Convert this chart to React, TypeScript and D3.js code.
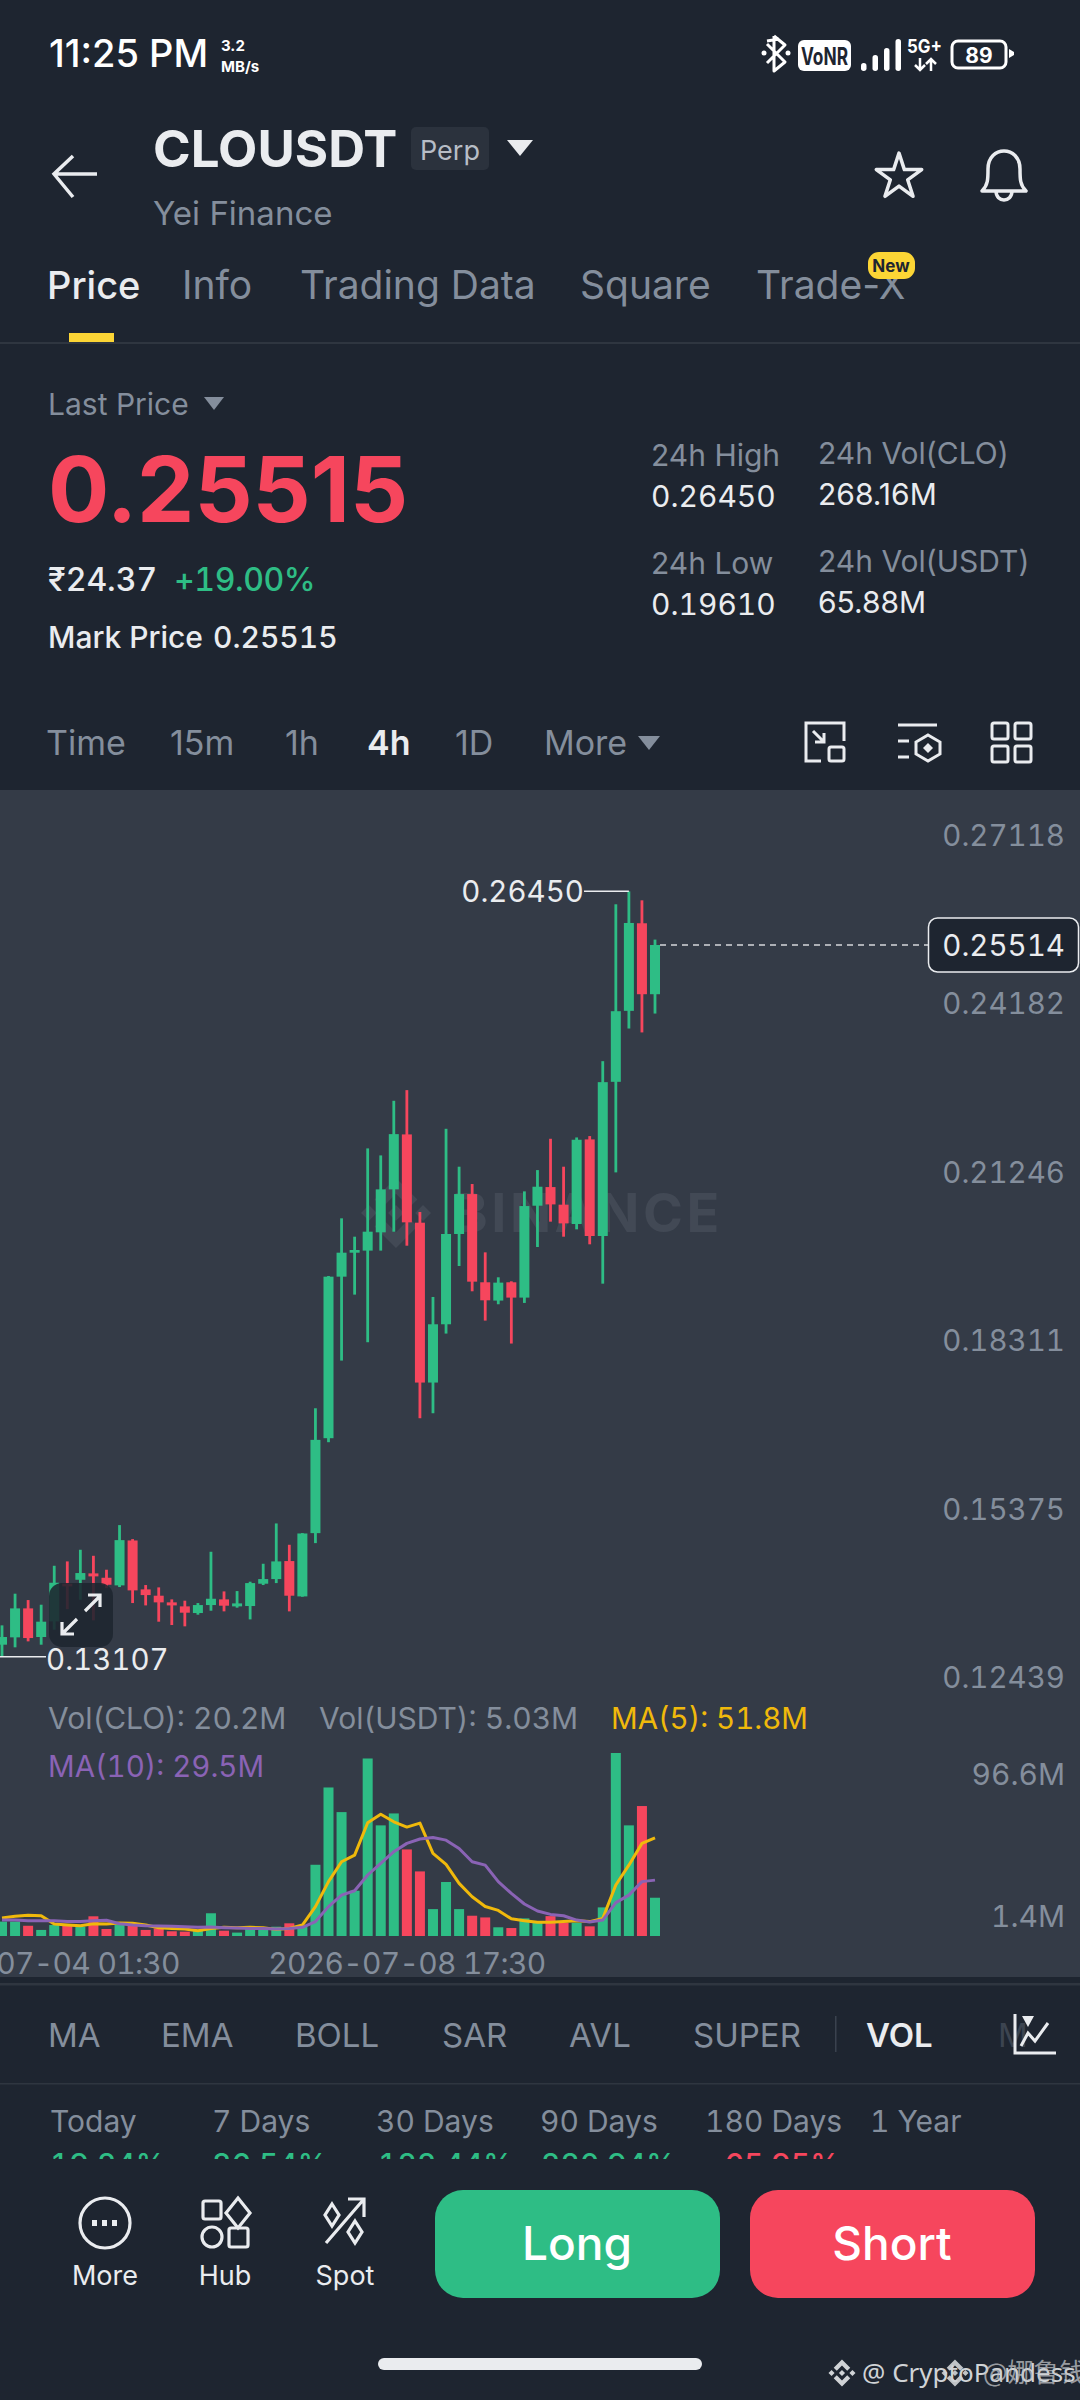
import * as d3 from 'd3'

const GREEN = '#2EBD85'
const RED = '#F6465D'
const YELLOW = '#F0B90B'
const PURPLE = '#8A63B5'
const WHITE = '#EAECEF'
const GREY = '#848E9C'
const DARK = '#1E2530'
const PANEL = '#343B47'

// 4h candles, oldest first
const opens = [
  0.13316, 0.13444, 0.13949, 0.1345, 0.13723, 0.14379, 0.14448, 0.14559, 0.14483, 0.1435, 0.15133, 0.1428, 0.1417,
  0.14054, 0.13984, 0.13868, 0.14007, 0.14106, 0.13984, 0.1399, 0.14379, 0.1446, 0.14774, 0.14158, 0.15261, 0.16916,
  0.19732, 0.2015, 0.20186, 0.20505, 0.21254, 0.22212, 0.20673, 0.17886, 0.18902, 0.20476, 0.21172, 0.19634, 0.19315,
  0.19634, 0.19367, 0.20969, 0.21294, 0.20987, 0.2065, 0.22125, 0.20441, 0.23129, 0.24366, 0.25893, 0.24656,
]
const highs = [
  0.13653, 0.14205, 0.14094, 0.14013, 0.14692, 0.14768, 0.14971, 0.14866, 0.14623, 0.15401, 0.15157, 0.14356, 0.14315,
  0.14106, 0.14083, 0.14042, 0.14936, 0.14245, 0.14251, 0.14414, 0.14727, 0.1543, 0.15058, 0.15261, 0.17438, 0.19744,
  0.20749, 0.20429, 0.21968, 0.21846, 0.22798, 0.22984, 0.20859, 0.19378, 0.2231, 0.21649, 0.21347, 0.20156, 0.19721,
  0.19651, 0.21219, 0.2159, 0.22136, 0.21649, 0.22159, 0.22183, 0.23489, 0.26224, 0.2645, 0.26293, 0.25608,
]
const lows = [
  0.13107, 0.1327, 0.13374, 0.13316, 0.13578, 0.13937, 0.141, 0.1374, 0.14303, 0.14321, 0.14042, 0.14001, 0.13717,
  0.13659, 0.13636, 0.13839, 0.13908, 0.13897, 0.13961, 0.13757, 0.14356, 0.1439, 0.13897, 0.14152, 0.15087, 0.16846,
  0.18269, 0.19419, 0.18589, 0.20186, 0.20516, 0.20272, 0.17264, 0.17351, 0.1874, 0.19918, 0.19477, 0.18966, 0.19251,
  0.18566, 0.19274, 0.20249, 0.20691, 0.20429, 0.20557, 0.20296, 0.1961, 0.2155, 0.24058, 0.2399, 0.24319,
]
const closes = [
  0.1345, 0.13949, 0.13432, 0.13717, 0.14396, 0.14332, 0.14565, 0.14507, 0.14361, 0.15139, 0.14263, 0.14181, 0.14054,
  0.14001, 0.13874, 0.14007, 0.14117, 0.13996, 0.14036, 0.1439, 0.1446, 0.14768, 0.1417, 0.15255, 0.16887, 0.19732,
  0.2015, 0.20197, 0.20516, 0.21254, 0.22217, 0.20679, 0.17886, 0.18902, 0.20476, 0.21172, 0.19645, 0.1932, 0.19628,
  0.19367, 0.20963, 0.213, 0.20992, 0.20661, 0.22119, 0.20441, 0.23123, 0.2436, 0.25898, 0.24656, 0.25514,
]
// volume in millions of CLO
const volumes = [
  7.6, 7.6, 5.4, 3.2, 5.8, 5.3, 4.9, 10.4, 3.7, 5.8, 5.8, 3.2, 4.0, 2.5, 2.3, 3.2, 12.0, 2.8, 1.8, 5.3, 4.6, 4.9, 6.7,
  5.3, 37.6, 78.4, 65.4, 23.9, 93.7, 58.4, 64.7, 45.7, 34.1, 14.2, 28.5, 14.2, 10.7, 9.8, 4.6, 4.2, 9.3, 7.0, 10.5,
  7.0, 7.0, 5.1, 15.1, 96.6, 58.4, 68.6, 20.2,
]
const ma5 = [
  9.5, 10.4, 10.9, 10.7, 6.3, 5.8, 5.4, 6.5, 6.3, 6.9, 6.7, 5.8, 4.4, 4.0, 3.7, 2.8, 4.0, 4.6, 4.4, 4.6, 4.4, 3.5, 4.0,
  5.8, 15.5, 28.7, 39.2, 42.7, 59.8, 64.3, 60.3, 57.5, 59.6, 43.6, 37.8, 27.8, 20.7, 15.6, 13.5, 9.1, 8.1, 7.2, 7.2,
  7.6, 8.1, 7.6, 9.3, 26.9, 37.4, 48.9, 51.8,
]
const ma10 = [
  8.4, 8.4, 8.1, 8.1, 8.1, 7.7, 7.7, 8.1, 8.3, 6.5, 5.8, 5.4, 5.3, 5.1, 4.9, 4.6, 4.7, 4.4, 4.2, 4.0, 3.9, 3.7, 4.0,
  4.6, 7.6, 15.5, 21.6, 23.9, 32.2, 38.3, 44.5, 48.9, 51.2, 52.0, 50.6, 46.2, 39.2, 37.4, 28.7, 22.5, 16.9, 13.2, 11.4,
  10.7, 8.4, 7.4, 8.4, 17.6, 21.6, 28.7, 29.5,
]
const priceTicks = [0.27118, 0.24182, 0.21246, 0.18311, 0.15375, 0.12439]
const volumeTicks = [96.6, 1.4]
const timeLabels = ['2026-07-04 01:30', '2026-07-08 17:30']
const timeLabelIndex = [3, 31]
const lastPrice = 0.25514

const tabs = ['Price', 'Info', 'Trading Data', 'Square', 'Trade-X']
const tabX = [47, 182, 300, 580, 756]
const intervals = ['Time', '15m', '1h', '4h', '1D', 'More']
const intervalX = [46, 170, 285, 367, 455, 544]
const indicators = ['MA', 'EMA', 'BOLL', 'SAR', 'AVL', 'SUPER']
const indicatorX = [48, 161, 295, 442, 569, 693]
const periods = ['Today', '7 Days', '30 Days', '90 Days', '180 Days', '1 Year']
const periodX = [50, 212, 376, 540, 705, 870]
const periodReturns = ['19.24%', '86.54%', '122.44%', '220.94%', '-65.95%']
const returnX = [50, 212, 378, 541, 705]

const x = d3.scaleLinear([0, 50], [2, 655])
const y = d3.scaleLinear([0.12439, 0.27118], [1695, 853])
const yVol = d3.scaleLinear([0, 96.6], [1936, 1753])
const maLine = d3
  .line<number>()
  .x((_, i) => x(i))
  .y((d) => yVol(d))

const BINANCE_LOGO =
  'M16.624 13.9202l2.7175 2.7154-7.353 7.353-7.353-7.352 2.7175-2.7164 4.6355 4.6595 4.6356-4.6595zm4.6366-4.6366L24 12l-2.7154 2.7164L18.5682 12l2.6924-2.7164zm-9.272.001l2.7163 2.6914-2.7164 2.7174v-.001L9.2721 12l2.7164-2.7154zm-9.2722-.001L5.4088 12l-2.6914 2.6924L0 12l2.7164-2.7164zM11.9885.0115l7.353 7.329-2.7174 2.7154-4.6356-4.6356-4.6355 4.6595-2.7174-2.7154 7.353-7.353z'

function T({ x, y, s = 30, c = GREY, w = 400, a = 'start', n = false, children, ...rest }: any) {
  return (
    <text
      x={x}
      y={y}
      fontSize={s}
      fill={c}
      fontWeight={w}
      textAnchor={a}
      style={n ? { fontFeatureSettings: '"tnum"' } : undefined}
      {...rest}
    >
      {children}
    </text>
  )
}

function Caret({ x, y, w, h, c }: any) {
  return <path d={`M${x},${y}h${w}l${-w / 2},${h}z`} fill={c} />
}

function Logo({ cx, cy, size, c }: any) {
  return <path d={BINANCE_LOGO} fill={c} transform={`translate(${cx - size / 2},${cy - size / 2}) scale(${size / 24})`} />
}

function StatusBar() {
  return (
    <g>
      <T x={49} y={67} s={38} c="#fff" w={500}>11:25 PM</T>
      <T x={221} y={51} s={15} c="#fff" w={700}>3.2</T>
      <T x={221} y={72} s={15} c="#fff" w={700}>MB/s</T>
      <path d="M767,41l12,-2v0M774,36v35l11,-9l-18,-18M774,36l11,9l-18,18" fill="none" stroke="#fff" strokeWidth={3} strokeLinejoin="round" />
      <circle cx={764} cy={53} r={2.5} fill="#fff" />
      <circle cx={788} cy={53} r={2.5} fill="#fff" />
      <rect x={798} y={40} width={53} height={31} rx={6} fill="#fff" />
      <T x={801} y={65} s={24} c={DARK} w={700} textLength={47} lengthAdjust="spacingAndGlyphs">VoNR</T>
      {[63, 55, 48, 39].map((top, i) => (
        <rect key={i} x={861 + i * 11.5} y={top} width={5.5} height={71 - top} rx={2.7} fill="#fff" />
      ))}
      <T x={907} y={53} s={19} c="#fff" w={700} textLength={35} lengthAdjust="spacingAndGlyphs">5G+</T>
      <path d="M920,58v12M915,65l5,5l5,-5M931,71v-12M926,64l5,-5l5,5" fill="none" stroke="#fff" strokeWidth={2.5} />
      <rect x={952} y={41} width={54} height={27} rx={6} fill="none" stroke="#fff" strokeWidth={3} />
      <T x={979} y={63} s={21} c="#fff" w={700} a="middle">89</T>
      <path d="M1009,49l5,3v3l-5,3z" fill="#fff" />
    </g>
  )
}

function Header() {
  const star = d3.symbol(d3.symbolStar, 640)()
  return (
    <g>
      <path d="M97,174H55M73,156L54,174L73,197" fill="none" stroke={WHITE} strokeWidth={3.5} />
      <T x={153} y={167} s={51} c={WHITE} w={700}>CLOUSDT</T>
      <rect x={411} y={127} width={78} height={43} rx={5} fill="#2B323D" />
      <T x={420} y={160} s={27} c="#B7BDC6">Perp</T>
      <Caret x={507} y={140} w={26} h={16} c={WHITE} />
      <T x={153} y={225} s={33} c={GREY}>Yei Finance</T>
      <path d={star ?? undefined} transform="translate(899,177)" fill="none" stroke={WHITE} strokeWidth={3.5} strokeLinejoin="round" />
      <path
        d="M982,191c6,-6 6,-12 6,-22c0,-24 32,-24 32,0c0,10 0,16 6,22zM996,191c0,12 16,12 16,0"
        fill="none"
        stroke={WHITE}
        strokeWidth={3.5}
        strokeLinejoin="round"
      />
      {tabs.map((t, i) => (
        <T key={t} x={tabX[i]} y={299} s={i === 0 ? 38 : 39} c={i === 0 ? WHITE : GREY} w={i === 0 ? 500 : 400}>{t}</T>
      ))}
      <rect x={868} y={252} width={47} height={27} rx={11} fill="#FCD535" />
      <T x={891} y={272} s={17} c={DARK} w={700} a="middle">New</T>
      <rect x={69} y={333} width={45} height={9} fill="#FCD535" />
      <rect x={0} y={342} width={1080} height={2} fill="#2F3640" />
    </g>
  )
}

function Stats() {
  return (
    <g>
      <T x={48} y={415} s={30}>Last Price</T>
      <Caret x={204} y={397} w={20} h={13} c={GREY} />
      <T x={48} y={522} s={91} c={RED} w={700}>0.25515</T>
      <T x={48} y={591} s={32} c={WHITE} w={500} n>₹24.37</T>
      <T x={174} y={591} s={32} c={GREEN} w={500} letterSpacing={-0.4} n>+19.00%</T>
      <T x={48} y={648} s={30} c={WHITE} w={500}>Mark Price</T>
      <T x={213} y={648} s={30} c={WHITE} w={500} n>0.25515</T>
      <T x={651} y={466} s={30}>24h High</T>
      <T x={651} y={507} s={30} c={WHITE} n>0.26450</T>
      <T x={818} y={464} s={30}>24h Vol(CLO)</T>
      <T x={818} y={505} s={30} c={WHITE}>268.16M</T>
      <T x={651} y={574} s={30}>24h Low</T>
      <T x={651} y={615} s={30} c={WHITE} n>0.19610</T>
      <T x={818} y={572} s={30}>24h Vol(USDT)</T>
      <T x={818} y={613} s={30} c={WHITE}>65.88M</T>
      {intervals.map((t, i) => (
        <T key={t} x={intervalX[i]} y={755} s={34} c={t === '4h' ? WHITE : GREY} w={t === '4h' ? 600 : 400}>{t}</T>
      ))}
      <Caret x={638} y={736} w={22} h={14} c={GREY} />
      <g fill="none" stroke={WHITE} strokeWidth={3}>
        <path d="M821,761h-15v-38h38v18M813,731l11,11M824,733v9h-9" />
        <rect x={829} y={747} width={15} height={14} rx={2} />
        <path d="M898,725h39M898,741h11M898,757h11" />
        <path d="M928,735l12,7v12l-12,7l-12,-7v-12z" />
        <path d="M928,743l5,5l-5,5l-5,-5z" fill={WHITE} stroke="none" />
        <rect x={992} y={723} width={16} height={16} rx={2} />
        <rect x={1015} y={723} width={16} height={16} rx={2} />
        <rect x={992} y={746} width={16} height={16} rx={2} />
        <rect x={1015} y={746} width={16} height={16} rx={2} />
      </g>
    </g>
  )
}

function Candles() {
  return (
    <g>
      {opens.map((o, i) => {
        const c = closes[i]
        const color = c >= o ? GREEN : RED
        const top = y(Math.max(o, c))
        const bottom = y(Math.min(o, c))
        return (
          <g key={i} fill={color}>
            <rect x={x(i) - 1.4} y={y(highs[i])} width={2.8} height={y(lows[i]) - y(highs[i])} />
            <rect x={x(i) - 5} y={top} width={10} height={Math.max(bottom - top, 2)} />
          </g>
        )
      })}
    </g>
  )
}

function PricePanel() {
  return (
    <g>
      <rect x={0} y={790} width={1080} height={1187} fill={PANEL} />
      <Logo cx={396} cy={1213} size={70} c="#424955" />
      <T x={452} y={1232} s={54} c="#424955" w={700} letterSpacing={3.5}>BINANCE</T>
      <Candles />
      {priceTicks.map((t) => (
        <T key={t} x={1065} y={y(t) - 7} s={29.5} a="end" n>{t.toFixed(5)}</T>
      ))}
      <line x1={x(50) + 5} x2={928} y1={y(lastPrice)} y2={y(lastPrice)} stroke="#D5D8DC" strokeWidth={1.5} strokeDasharray="6 5" />
      <rect x={928.5} y={918} width={150} height={54} rx={9} fill={DARK} stroke={WHITE} strokeWidth={1.5} />
      <T x={1065} y={956} s={29.5} c={WHITE} a="end" n>{lastPrice.toFixed(5)}</T>
      <line x1={584} x2={x(48)} y1={y(0.2645)} y2={y(0.2645)} stroke={WHITE} strokeWidth={1.5} />
      <T x={584} y={902} s={29.5} c={WHITE} a="end" n>0.26450</T>
      <line x1={0} x2={46} y1={y(0.13107)} y2={y(0.13107)} stroke={WHITE} strokeWidth={1.5} />
      <T x={46} y={1670} s={29.5} c={WHITE} n>0.13107</T>
      <rect x={49} y={1583} width={64} height={64} rx={13} fill={DARK} opacity={0.88} />
      <path d="M85,1611l15,-15M88,1595h12v12M77,1619l-15,15M62,1622v12h12" fill="none" stroke={WHITE} strokeWidth={3.2} />
    </g>
  )
}

function VolumePanel() {
  return (
    <g>
      <T x={48} y={1729} n>Vol(CLO): 20.2M</T>
      <T x={319} y={1729} n>Vol(USDT): 5.03M</T>
      <T x={611} y={1729} s={29.5} c={YELLOW} n>MA(5): 51.8M</T>
      <T x={48} y={1777} s={29.5} c={PURPLE} n>MA(10): 29.5M</T>
      {volumes.map((v, i) => (
        <rect
          key={i}
          x={x(i) - 5}
          y={yVol(v)}
          width={10}
          height={yVol(0) - yVol(v)}
          fill={closes[i] >= opens[i] ? GREEN : RED}
        />
      ))}
      <path d={maLine(ma5) ?? undefined} fill="none" stroke={YELLOW} strokeWidth={3} strokeLinejoin="round" />
      <path d={maLine(ma10) ?? undefined} fill="none" stroke={PURPLE} strokeWidth={3} strokeLinejoin="round" />
      <T x={1065} y={1785} a="end" n>{volumeTicks[0]}M</T>
      <T x={1065} y={1927} a="end" n>{volumeTicks[1]}M</T>
      {timeLabels.map((t, i) => (
        <T key={t} x={x(timeLabelIndex[i])} y={1974} s={30} a="middle" letterSpacing={-0.7} n>{t}</T>
      ))}
    </g>
  )
}

function Footer() {
  return (
    <g>
      <rect x={0} y={1983} width={1080} height={2.5} fill="#2F3640" />
      {indicators.map((t, i) => (
        <T key={t} x={indicatorX[i]} y={2047} s={33}>{t}</T>
      ))}
      <rect x={835} y={2016} width={1.5} height={36} fill="#3A424E" />
      <T x={866} y={2047} s={33} c={WHITE} w={600}>VOL</T>
      <T x={998} y={2047} s={33} c="#3C4450">M</T>
      <path d="M1015,2014v39h41" fill="none" stroke={WHITE} strokeWidth={3} />
      <path d="M1022,2016h12l-6,11z" fill={WHITE} />
      <path d="M1021,2046l7,-13l7,8l13,-18" fill="none" stroke={WHITE} strokeWidth={3} />
      <rect x={0} y={2083} width={1080} height={1.5} fill="#2F3640" />
      {periods.map((t, i) => (
        <T key={t} x={periodX[i]} y={2132} n>{t}</T>
      ))}
      <clipPath id="returns-clip">
        <rect x={0} y={2140} width={1080} height={19} />
      </clipPath>
      <g clipPath="url(#returns-clip)">
        {periodReturns.map((t, i) => (
          <T key={t} x={returnX[i]} y={2175} c={t.startsWith('-') ? RED : GREEN} w={500} n>{t}</T>
        ))}
      </g>
      <g fill="none" stroke={WHITE} strokeWidth={3.2}>
        <circle cx={105} cy={2223} r={25} />
        <rect x={203} y={2201} width={18} height={18} rx={2} />
        <path d="M238,2198l12,15l-12,15l-12,-15z" />
        <circle cx={212} cy={2237} r={10} />
        <rect x={229} y={2228} width={19} height={19} rx={2} />
        <path d="M326,2243l38,-44M348,2199h16v18" />
        <path d="M332,2204l7,11l-7,11l-7,-11z" />
        <path d="M355,2221l7,11l-7,11l-7,-11z" />
      </g>
      <g fill={WHITE}>
        <rect x={92} y={2220} width={5} height={6} />
        <rect x={102} y={2220} width={5} height={6} />
        <rect x={112} y={2220} width={5} height={6} />
      </g>
      <T x={105} y={2285} s={27} c={WHITE} a="middle">More</T>
      <T x={225} y={2285} s={27} c={WHITE} a="middle">Hub</T>
      <T x={345} y={2285} s={27} c={WHITE} a="middle">Spot</T>
      <rect x={435} y={2190} width={285} height={108} rx={28} fill={GREEN} />
      <rect x={750} y={2190} width={285} height={108} rx={28} fill={RED} />
      <T x={577} y={2260} s={46} c="#fff" w={500} a="middle">Long</T>
      <T x={892} y={2260} s={46} c="#fff" w={500} a="middle">Short</T>
      <rect x={378} y={2358} width={324} height={12} rx={6} fill={WHITE} />
      <Logo cx={842} cy={2373} size={27} c="#D0D3D6" />
      <Logo cx={955} cy={2373} size={27} c="#C0C3C6" opacity={0.8} />
      <text x={862} y={2382} fontSize={26} fill="#D0D3D6" fontFamily="'Noto Sans'">@ CryptoPandess</text>
      <text x={983} y={2382} fontSize={26} fill="#C0C3C6" opacity={0.75} fontFamily="'Noto Sans CJK SC'">@娜鲁钱</text>
    </g>
  )
}

export default function App() {
  return (
    <svg
      width={1080}
      height={2400}
      viewBox="0 0 1080 2400"
      fontFamily="Inter, 'Noto Sans', sans-serif"
      style={{ position: 'absolute', left: 0, top: 0, display: 'block' }}
    >
      <rect width={1080} height={2400} fill={DARK} />
      <StatusBar />
      <Header />
      <Stats />
      <PricePanel />
      <VolumePanel />
      <Footer />
    </svg>
  )
}
